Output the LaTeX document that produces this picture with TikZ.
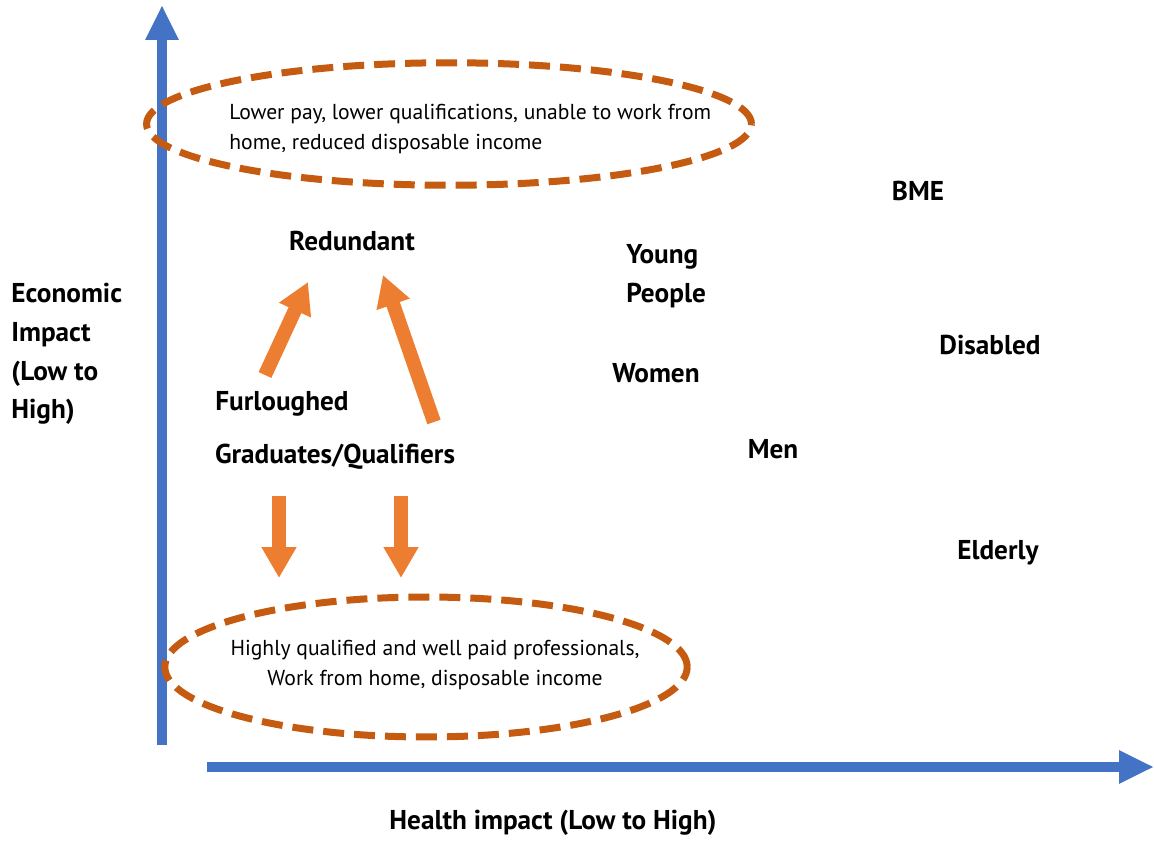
\documentclass[tikz,border=0pt]{standalone}
\usepackage{fontspec}
\setmainfont{PT Sans}
\usepackage{tikz}
\usetikzlibrary{arrows.meta,positioning,shapes.geometric}
\definecolor{axisblue}{HTML}{4472C4}
\definecolor{arrorange}{HTML}{ED7D31}
\definecolor{ovalorange}{HTML}{C55A11}
\tikzset{
  >=Stealth,
  every node/.append style={font=\fontsize{15.5}{22}\selectfont\bfseries},
}
\tikzset{
  axis/.style={draw=axisblue, line width=0.2cm, -{Triangle[length=0.7cm,width=0.62cm]}},
  move/.style={draw=arrorange, line width=0.28cm, -{Triangle[length=0.62cm,width=0.66cm]}},
  oval/.style={ellipse, draw=ovalorange, line width=0.14cm, dash pattern=on 0.42cm off 0.2cm}
}

\begin{document}
\begin{tikzpicture}[
  x=0.02cm, y=-0.02cm,
  grp/.style={align=left, inner sep=0pt},
  note/.style={align=left, inner sep=0pt, font=\fontsize{12.3}{17.5}\selectfont}
]
\useasboundingbox (0,0) rectangle (1154,844);

% axes
\coordinate (origin) at (162,745);
\coordinate (ytop) at (162,5);
\coordinate (xstart) at (207,767);
\coordinate (xend) at (1154,767);
\draw[axis] (origin) -- (ytop);
\draw[axis] (xstart) -- (xend);

\node[grp, anchor=north west] (ylabel) at (11,283) {Economic\\Impact\\(Low to\\High)};
\node (xlabel) at (553,823) {Health impact (Low to High)};

% dashed ovals
\node[oval, minimum width=12.1cm, minimum height=2.45cm] (highoval) at (449,124) {};
\node[note, anchor=west] (hightext) at (229,129)
  {Lower pay, lower qualifications, unable to work from\\home, reduced disposable income};
\node[oval, minimum width=10.45cm, minimum height=2.8cm] (lowoval) at (426,667) {};
\node[note, align=center] (lowtext) at (435,665)
  {Highly qualified and well paid professionals,\\Work from home, disposable income};

% groups
\node (redundant) at (352,241) {Redundant};
\node (furloughed) at (282,404) {Furloughed};
\node (grads) at (335,457) {Graduates/Qualifiers};
\node[grp, anchor=west] (young) at (626,276) {Young\\People};
\node (women) at (656,373) {Women};
\node (men) at (773,449) {Men};
\node (bme) at (918,191) {BME};
\node (disabled) at (990,345) {Disabled};
\node (elderly) at (998,553) {Elderly};

% movement arrows
\coordinate (furlup0) at (265,375);
\coordinate (furlup1) at (308,282);
\coordinate (gradup0) at (434,422);
\coordinate (gradup1) at (383,275);
\coordinate (down1a) at (279,496);
\coordinate (down1b) at (279,578);
\coordinate (down2a) at (401,496);
\coordinate (down2b) at (401,578);
\draw[move] (furlup0) -- (furlup1);
\draw[move] (gradup0) -- (gradup1);
\draw[move] (down1a) -- (down1b);
\draw[move] (down2a) -- (down2b);

\end{tikzpicture}
\end{document}
